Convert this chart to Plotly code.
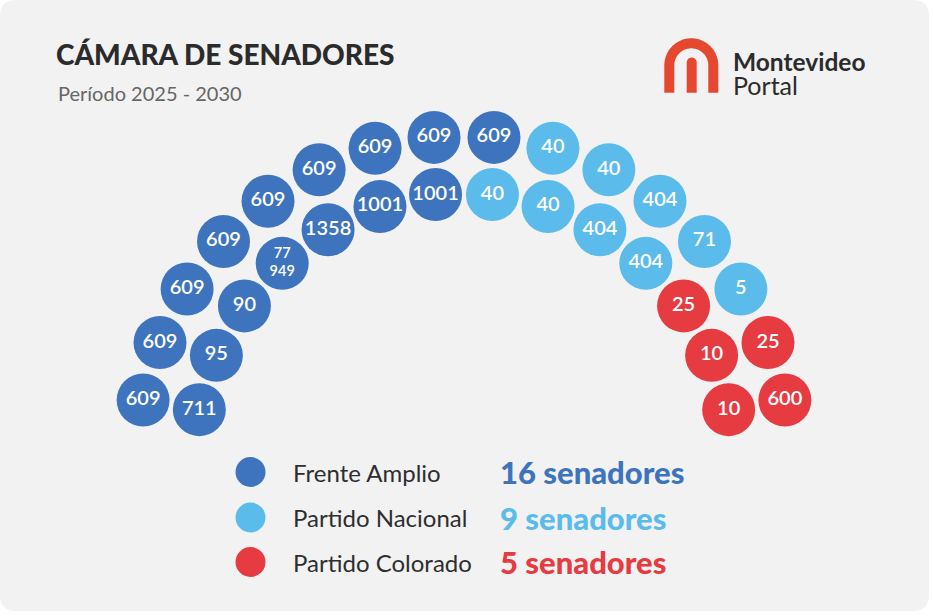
import numpy as np
import plotly.graph_objects as go

# ---- data ----
party_names = ["Frente Amplio", "Partido Nacional", "Partido Colorado"]
party_keys = ["FA", "PN", "PC"]
party_seats = [16, 9, 5]
party_colors = ["#3e74bd", "#5bbbea", "#e53b41"]

outer_labels = ["609", "609", "609", "609", "609", "609", "609", "609", "609",
                "40", "40", "404", "71", "5", "25", "600"]
outer_party = ["FA"] * 9 + ["PN"] * 5 + ["PC"] * 2
inner_labels = ["711", "95", "90", "77<br>949", "1358", "1001", "1001",
                "40", "40", "404", "404", "25", "10", "10"]
inner_party = ["FA"] * 7 + ["PN"] * 4 + ["PC"] * 3

title = "CÁMARA DE SENADORES"
subtitle = "Período 2025 - 2030"

# ---- geometry of the hemicycle ----
W, H = 933, 616
CX, CY = 464, 463
rows = [
    dict(labels=outer_labels, party=outer_party, r=327, a0=168.9, a1=11.1),
    dict(labels=inner_labels, party=inner_party, r=270, a0=168.6, a1=11.4),
]
color_of = dict(zip(party_keys, party_colors))

fig = go.Figure()

# card background
R = 16
x0, y0, x1, y1 = 0, 0, 929, 611
card = (f"M {x0+R},{y0} L {x1-R},{y0} Q {x1},{y0} {x1},{y0+R} L {x1},{y1-R} "
        f"Q {x1},{y1} {x1-R},{y1} L {x0+R},{y1} Q {x0},{y1} {x0},{y1-R} "
        f"L {x0},{y0+R} Q {x0},{y0} {x0+R},{y0} Z")
shapes = [dict(type="path", path=card, fillcolor="#f2f2f2", line=dict(width=0), layer="below")]

# logo (Montevideo Portal arch)
logo_c = "#e5472f"
ax, ay, ar = 691.3, 65.3, 22
t = np.linspace(np.pi, 0, 40)
pts = [(ax - ar, 92.7)] + [(ax + ar * np.cos(a), ay - ar * np.sin(a)) for a in t] + [(ax + ar, 92.7)]
arch = "M " + " L ".join(f"{px:.2f},{py:.2f}" for px, py in pts)
shapes.append(dict(type="path", path=arch, line=dict(color=logo_c, width=10)))
bx, btop, bw = 691.7, 62.5, 5
tb = np.linspace(np.pi, 0, 20)
bpts = [(bx - bw, 92.7)] + [(bx + bw * np.cos(a), btop - bw * np.sin(a)) for a in tb] + [(bx + bw, 92.7)]
bar = "M " + " L ".join(f"{px:.2f},{py:.2f}" for px, py in bpts) + " Z"
shapes.append(dict(type="path", path=bar, fillcolor=logo_c, line=dict(width=0)))

# seats
for row in rows:
    n = len(row["labels"])
    ang = np.deg2rad(np.linspace(row["a0"], row["a1"], n))
    xs = CX + row["r"] * np.cos(ang)
    ys = CY - row["r"] * np.sin(ang)
    cols = [color_of[p] for p in row["party"]]
    sizes = [14.5 if "<br>" in l else 20 for l in row["labels"]]
    fig.add_trace(go.Scatter(
        x=xs, y=ys, mode="markers+text",
        marker=dict(size=53, color=cols, line=dict(width=0)),
        text=row["labels"], textposition="middle center",
        textfont=dict(family="Lato", size=sizes, color="white", weight=600),
        hoverinfo="skip", showlegend=False, cliponaxis=False))

# legend
leg_y = [472, 517.5, 562]
fig.add_trace(go.Scatter(
    x=[250.5] * 3, y=leg_y, mode="markers",
    marker=dict(size=30, color=party_colors, line=dict(width=0)),
    hoverinfo="skip", showlegend=False))

ann = []
for name, seats, col, yy in zip(party_names, party_seats, party_colors, leg_y):
    ann.append(dict(x=291, y=yy, text=name, showarrow=False, xanchor="left", yanchor="middle",
                    font=dict(family="Lato", size=24, color="#2e2e2e")))
    ann.append(dict(x=498, y=yy, text=f"{seats} senadores", showarrow=False, xanchor="left",
                    yanchor="middle", font=dict(family="Lato", size=31, color=col, weight=900)))

ann.append(dict(x=54, y=54, text=title, showarrow=False, xanchor="left", yanchor="middle",
                font=dict(family="Lato", size=28, color="#2b2b2b", weight=900)))
ann.append(dict(x=56, y=93, text=subtitle, showarrow=False, xanchor="left", yanchor="middle",
                font=dict(family="Lato", size=20, color="#666666")))
ann.append(dict(x=731, y=60.5, text="Montevideo", showarrow=False, xanchor="left", yanchor="middle",
                height=22, font=dict(family="Lato", size=24.5, color="#2b2b2b", weight=700)))
ann.append(dict(x=731, y=84.5, text="Portal", showarrow=False, xanchor="left", yanchor="middle",
                height=22, font=dict(family="Lato", size=25, color="#2b2b2b")))

fig.update_layout(
    width=W, height=H, margin=dict(l=0, r=0, t=0, b=0),
    paper_bgcolor="white", plot_bgcolor="rgba(0,0,0,0)",
    xaxis=dict(range=[0, W], visible=False, fixedrange=True),
    yaxis=dict(range=[H, 0], visible=False, fixedrange=True),
    shapes=shapes, annotations=ann, showlegend=False,
)

fig.write_html("out.html", config=dict(displayModeBar=False),
               post_script="document.body.style.margin='0';document.body.style.overflow='hidden';")
